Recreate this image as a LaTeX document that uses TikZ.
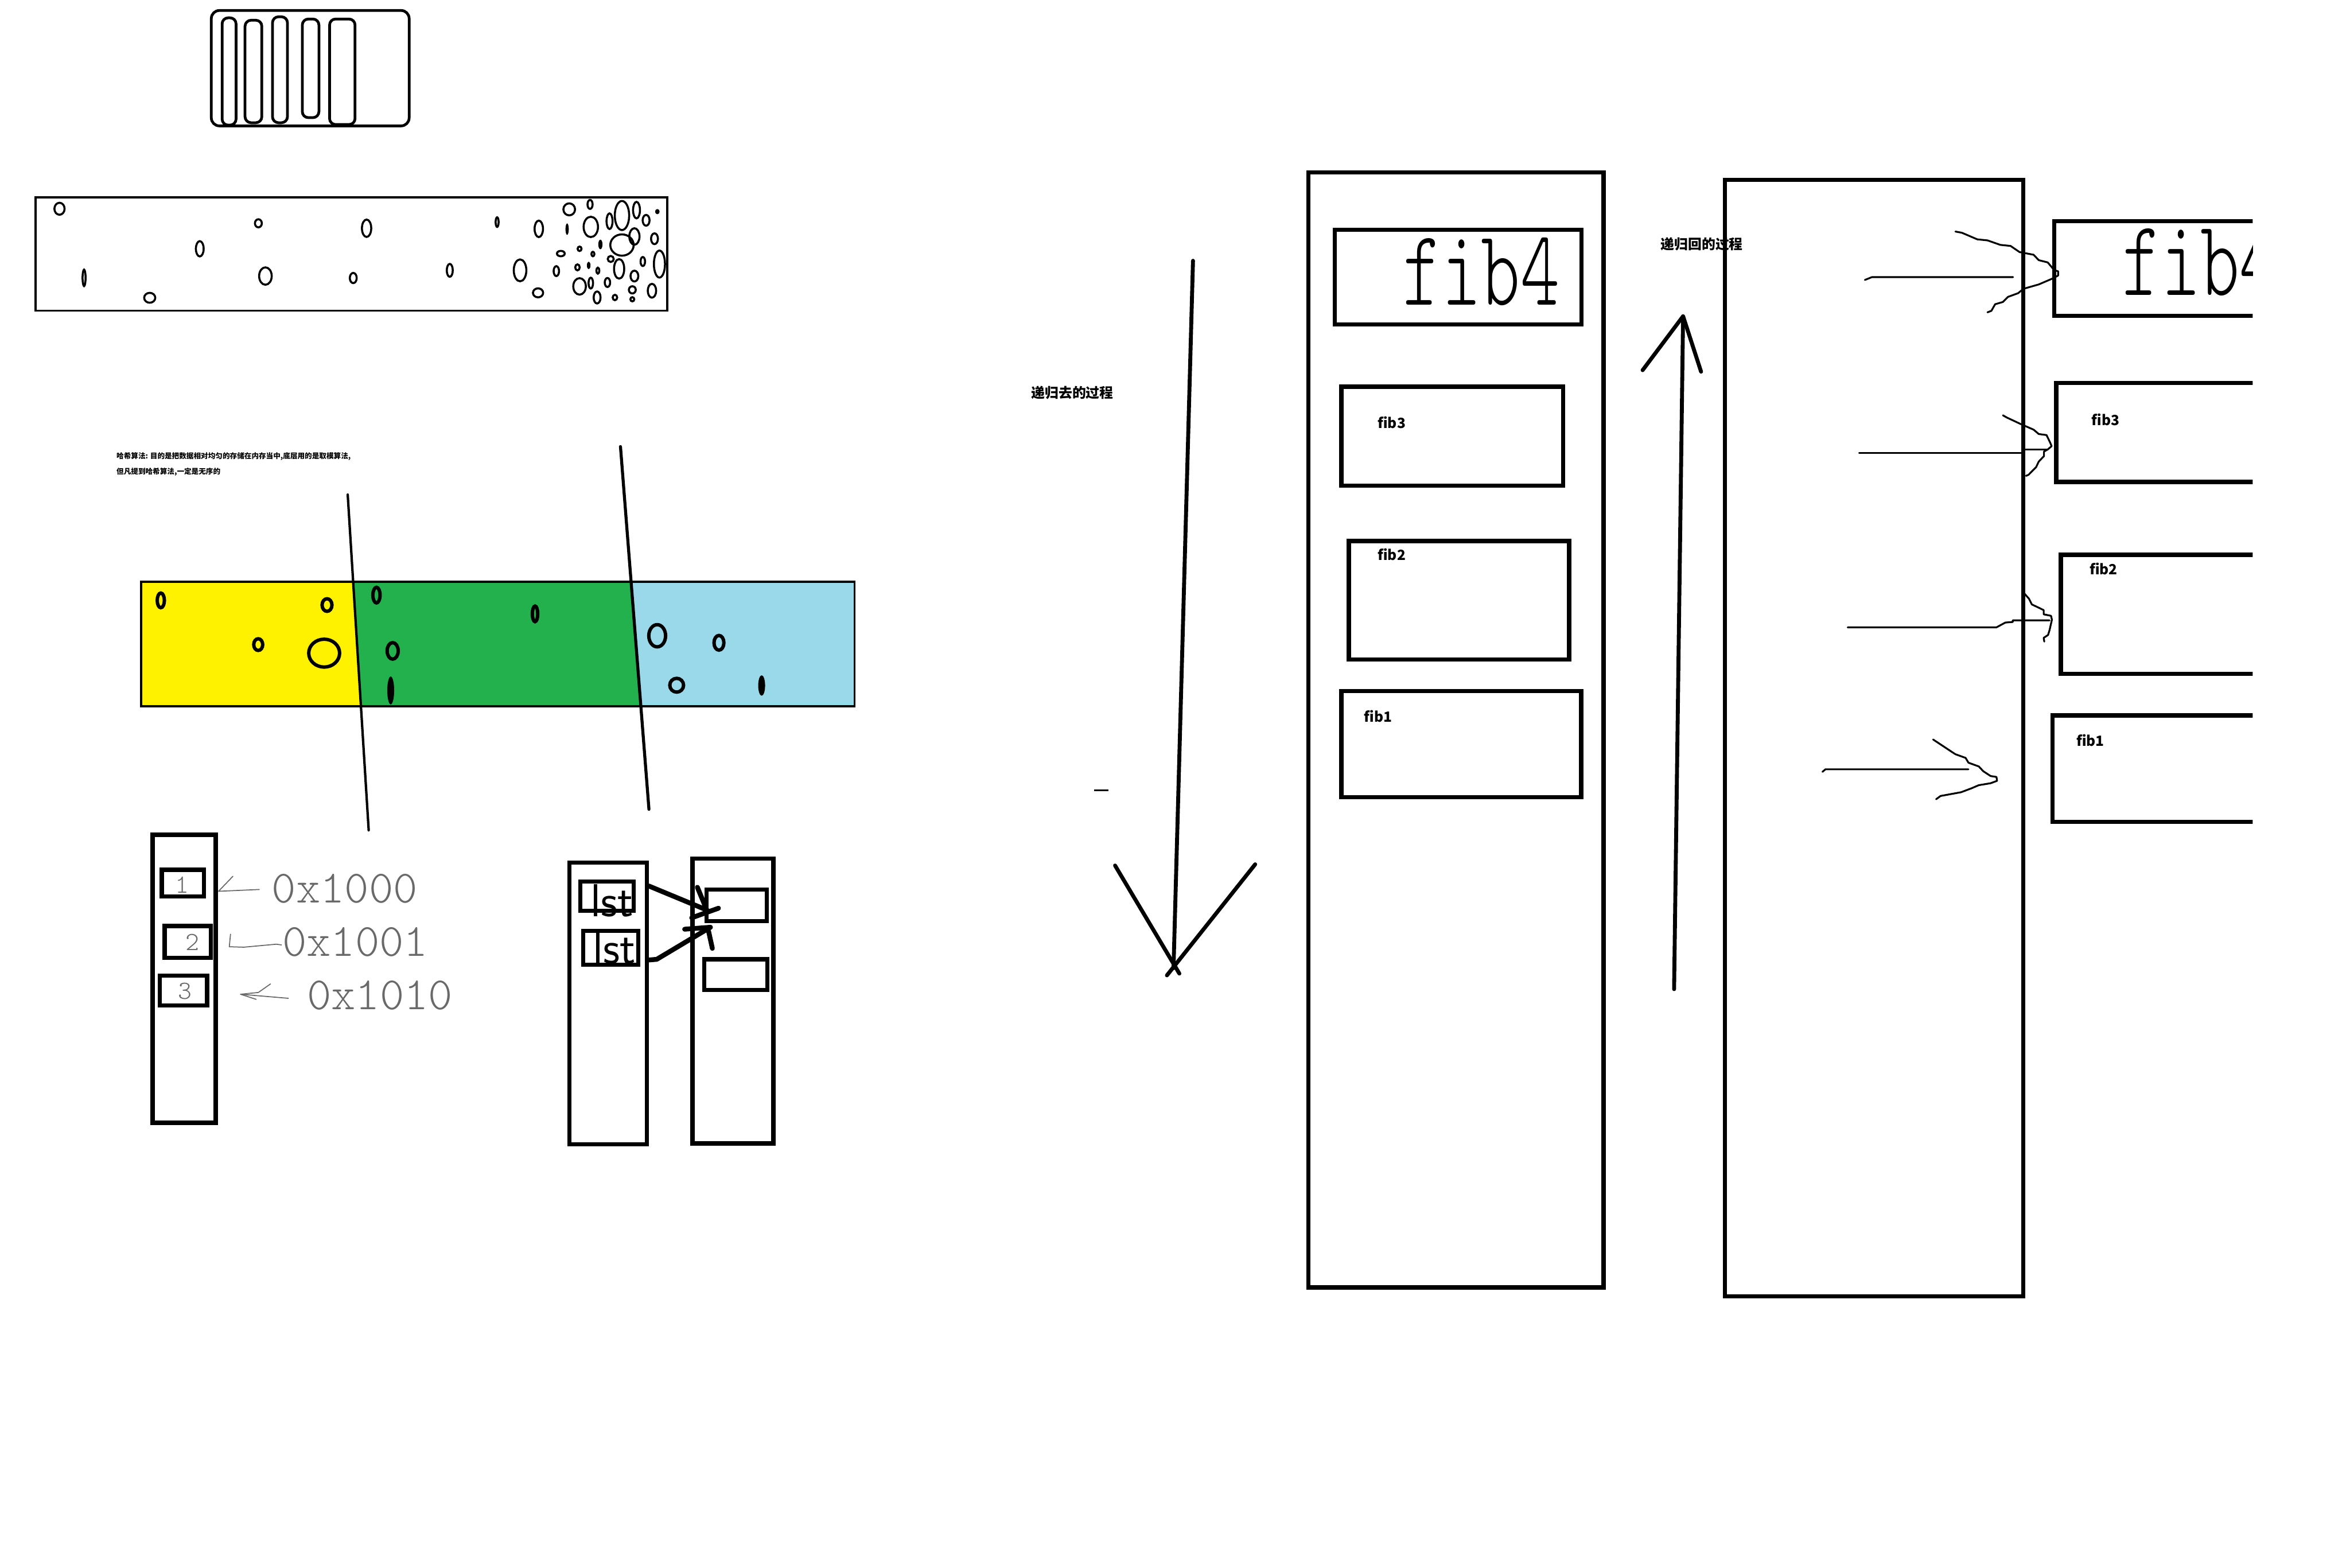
\documentclass[tikz,border=0pt]{standalone}
\usepackage{fontspec}
\usetikzlibrary{calc}
\newfontfamily\cjk{Noto Sans CJK SC}
\newfontfamily\hand{lmmonolt10-regular}[Extension=.otf]
\definecolor{cInk}   {RGB}{0,0,0}
\definecolor{cPaper} {RGB}{255,255,255}
\definecolor{cYellow}{RGB}{255,242,0}
\definecolor{cGreen} {RGB}{34,177,76}
\definecolor{cBlue}  {RGB}{153,217,234}
\definecolor{cPencil}{RGB}{105,105,105}
\def\Wthick{2.1pt}
\def\Wthin{0.9pt}
\tikzset{
  box/.style={draw=cInk,line width=\Wthick},
  ink/.style={cInk,line width=\Wthick,line cap=round,line join=round},
  hair/.style={cInk,line width=\Wthin,line cap=round,line join=round},
  pencil/.style={cPencil,line width=0.5pt,line cap=round,line join=round},
  bubble/.style={cInk,line width=1pt},
  blob/.style={cInk,line width=1.7pt},
  lbl/.style={font=\cjk\bfseries\fontsize{7}{8}\selectfont,inner sep=0pt},
  heading/.style={font=\cjk\bfseries\fontsize{6.8}{8}\selectfont,inner sep=0pt},
  note/.style={font=\cjk\bfseries\fontsize{3.6}{4.5}\selectfont,inner sep=0pt,anchor=west},
  scrawl/.style={font=\hand\fontsize{37}{37}\selectfont,inner sep=0pt,anchor=base west},
  pen/.style={font=\hand\fontsize{23}{23}\selectfont,text=cPencil,inner sep=0pt},
  digit/.style={font=\hand\fontsize{13}{13}\selectfont,text=cPencil,inner sep=0pt},
  lst/.style={font=\sffamily\fontsize{23}{23}\selectfont,inner sep=0pt},
}
% caixa de pilha com rótulo: nome, x1, y1, x2, y2, rótulo, dx, dy
\newcommand{\fibBox}[8]{%
  \draw[box] (#2,#3) rectangle (#4,#5);
  \node[lbl,anchor=west] (#1) at (#2+#7,#3+#8) {#6};
}

\begin{document}
\begin{tikzpicture}[x=0.262mm,y=-0.262mm]

% fundo
\useasboundingbox (0,0) rectangle (1568,1046);
\fill[cPaper] (0,0) rectangle (1568,1046);

% =================== CAIXA COM PÍLULAS ===================
\draw[cInk,line width=1.35pt,rounded corners=4pt] (141,7) rectangle (273,84);
\draw[cInk,line width=1.35pt,rounded corners=3pt]
  (148.2,11.9) rectangle (157.5,83.5)
  (163.5,13.5) rectangle (174.7,81.9)
  (181.8,11.2) rectangle (191.8,81.9)
  (201.7,12.7) rectangle (212.8,78.5)
  (219.9,12.7) rectangle (236.9,83.1);

% =================== CAIXA COM BOLHAS ===================
\draw[cInk,line width=1.1pt] (23.6,131.7) rectangle (445.2,207.3);
\draw[bubble]
  (39.7,139.3) ellipse (3.4 and 4.0)
  (172.4,149) ellipse (2.3 and 2.7)
  (244.6,152.3) ellipse (3.1 and 5.8)
  (133.3,166) ellipse (2.6 and 5.1)
  (56.1,185.4) ellipse (1.0 and 5.5)
  (177.1,184.2) ellipse (4.2 and 5.8)
  (99.9,198.7) ellipse (3.7 and 3.3)
  (235.7,185.5) ellipse (2.3 and 3.4)
  (331.7,148.2) ellipse (1.0 and 3.2)
  (300.1,180.4) ellipse (2.0 and 4.3)
  (359.5,152.7) ellipse (2.8 and 5.5)
  (347,180.4) ellipse (4.2 and 7.3)
  (359,195.4) ellipse (3.4 and 3.0)
  (379.8,139.7) ellipse (3.9 and 4.0)
  (393.7,136.4) ellipse (1.7 and 3.0)
  (394.2,151.4) ellipse (4.8 and 6.8)
  (406.7,147.6) ellipse (2.0 and 5.2)
  (415,143.8) ellipse (4.8 and 9.7)
  (424.7,140.2) ellipse (2.3 and 5.5)
  (431.1,147) ellipse (2.3 and 3.6)
  (438.6,141.2) ellipse (0.8 and 1.0)
  (423.3,157.8) ellipse (3.4 and 5.5)
  (415,163.5) ellipse (7.8 and 7.1)
  (436.7,159.3) ellipse (2.3 and 3.6)
  (386.7,166) ellipse (1.3 and 1.5)
  (374.2,169.2) ellipse (2.6 and 1.8)
  (395.6,169.5) ellipse (1.0 and 1.5)
  (407.5,172.8) ellipse (2.0 and 2.0)
  (413.1,179.4) ellipse (3.4 and 6.5)
  (428.9,174.5) ellipse (1.5 and 3.0)
  (440,176.2) ellipse (3.7 and 9.0)
  (385.3,178.4) ellipse (1.5 and 2.0)
  (398.9,180.6) ellipse (1.0 and 2.0)
  (371.2,180.9) ellipse (1.8 and 3.3)
  (423.3,184.2) ellipse (2.6 and 3.6)
  (386.7,191.1) ellipse (4.2 and 5.5)
  (394.2,188.9) ellipse (1.5 and 3.6)
  (405.3,188.5) ellipse (1.8 and 3.0)
  (398.4,198.5) ellipse (2.3 and 4.0)
  (410.3,198.5) ellipse (1.5 and 1.8)
  (421.9,193.4) ellipse (2.3 and 2.4)
  (421.9,199.7) ellipse (1.3 and 1.4)
  (435,194) ellipse (2.8 and 4.6);
\fill[cInk] (378.4,152.9) ellipse (1.1 and 3.8)
  (400.6,163.1) ellipse (1.4 and 3.2)
  (392.8,177.1) ellipse (1.2 and 2.5);

% =================== NOTA ===================
\node[note] (note1) at (77.5,304.6)
  {哈希算法: 目的是把数据相对均匀的存储在内存当中,底层用的是取模算法,};
\node[note] (note2) at (77.5,315)
  {但凡提到哈希算法,一定是无序的};

% =================== FAIXA COLORIDA ===================
\fill[cYellow] (94,388) -- (235.6,388) -- (240.8,471) -- (94,471) -- cycle;
\fill[cGreen] (235.6,388) -- (421.1,388) -- (427.6,471) -- (240.8,471) -- cycle;
\fill[cBlue] (421.1,388) -- (570,388) -- (570,471) -- (427.6,471) -- cycle;
\draw[cInk,line width=1.1pt] (94.2,388.1) rectangle (570.2,471.2);
\draw[blob]
  (107.3,400.6) ellipse (2.4 and 4.9)
  (218.2,403.7) ellipse (3.3 and 4.2)
  (172.3,430.1) ellipse (3 and 3.9)
  (216.3,435.8) ellipse (10.3 and 9.3)
  (251.2,397.1) ellipse (2.4 and 5.2)
  (357,409.6) ellipse (1.8 and 5.2)
  (262,434.3) ellipse (3.7 and 5.5)
  (438.5,424.2) ellipse (5.6 and 7.4)
  (479.7,428.9) ellipse (3.3 and 4.9)
  (451.5,457.2) ellipse (4.6 and 4.6);
\fill[cInk] (260.7,460.7) ellipse (2.3 and 9.3) (508.2,457.4) ellipse (2.3 and 6.8);
% cortes
\coordinate (cutA1) at (232,330);
\coordinate (cutA2) at (246,554);
\coordinate (cutB1) at (414,298);
\coordinate (cutB2) at (433,540);
\draw[cInk,line width=1.2pt,line cap=round] (cutA1) -- (cutA2);
\draw[cInk,line width=1.5pt,line cap=round] (cutB1) -- (cutB2);

% =================== MEMÓRIA COM ENDEREÇOS ===================
\draw[cInk,line width=2.3pt] (101.8,556.9) rectangle (143.8,749);
\draw[box] (108,580.4) rectangle (136,598.2);
\draw[box] (109.9,617.9) rectangle (140.8,639);
\draw[box] (106.5,651) rectangle (138.2,671);
\node[digit] (d1) at (121.6,590.3) {1};
\node[digit] (d2) at (128.3,628.8) {2};
\node[digit] (d3) at (123.5,661.5) {3};
\node[pen] (addr1) at (230,593) {0x1000};
\node[pen] (addr2) at (237,628.6) {0x1001};
\node[pen] (addr3) at (253.5,664) {0x1010};
\draw[pencil] (173,593.5) -- (145.8,594.7) -- (155.4,584.7);
\draw[pencil] (153.8,623.3) -- (153,631.7) -- (162.6,632) -- (184.4,630) -- (187.8,630.5);
\draw[pencil] (180.5,656.5) -- (172.4,662.2) -- (160.5,663.4) -- (170.9,666.8);
\draw[pencil] (160.5,663.4) -- (192.4,666.1);

% =================== LISTAS ===================
\draw[box] (380,575.5) rectangle (431.5,763.5);
\draw[box] (387.2,588.2) rectangle (422.8,607.8);
\draw[box] (389.2,621.2) rectangle (425.8,643.8);
\node[lst] (lst1) at (408.5,601) {lst};
\node[lst] (lst2) at (410,632.5) {lst};
\draw[box] (462,573) rectangle (516,763);
\draw[box] (471.5,593.5) rectangle (511.5,614.5);
\draw[box] (470,640) rectangle (512,660.5);
\coordinate (ptrA) at (433,591.2);
\coordinate (ptrAend) at (471.6,607.2);
\coordinate (ptrB) at (432,640.6);
\coordinate (ptrBend) at (474,618.7);
\draw[ink,line width=2.4pt] (ptrA) -- (ptrAend);
\draw[ink,line width=2.4pt] (465.3,592) -- (ptrAend);
\draw[ink,line width=2.4pt] (461.5,612.4) -- (479.4,606);
\draw[ink,line width=2.4pt] (ptrB) -- (438.2,640.1) -- (ptrBend);
\draw[ink,line width=2.4pt] (456.8,620) -- (ptrBend);
\draw[ink,line width=2.4pt] (472.8,621.4) -- (475.3,632.8);

% =================== RECURSÃO: IDA ===================
\node[heading] (goLbl) at (715.5,262) {递归去的过程};
\coordinate (goTop) at (796,174);
\coordinate (goTip) at (783,646);
\draw[ink,line width=1.95pt] (goTop) -- (goTip);
\draw[ink,line width=1.95pt] (744,577.5) -- (786.9,649.6);
\draw[ink,line width=1.95pt] (837.5,576.7) -- (778.6,650.8);
\draw[cInk,line width=0.8pt] (730,527.3) -- (739.4,527.3);

\draw[box] (873,115) rectangle (1070,859);
\fibBox{fibL3}{895}{258}{1043}{324}{fib3}{24}{24}
\fibBox{fibL2}{900}{361}{1047}{440}{fib2}{19}{9}
\fibBox{fibL1}{895}{461}{1055}{532}{fib1}{15}{17}
\draw[box] (890.7,153.4) rectangle (1055.1,216.6);
\node[scrawl] (fibL4) at (936,203.6) {\scalebox{1}[1.45]{fib4}};

% =================== RECURSÃO: VOLTA ===================
\node[heading] (backLbl) at (1135.5,163) {递归回的过程};
\coordinate (backBot) at (1117,660);
\coordinate (backTip) at (1123,211);
\draw[ink,line width=1.95pt] (backBot) -- (backTip);
\draw[ink,line width=1.95pt] (1096,247) -- (backTip) -- (1135,248);

\draw[box] (1151,120) rectangle (1350,865);
\begin{scope}
  \clip (0,0) rectangle (1503,1046);
  \draw[box] (1370.6,147.6) rectangle (1545,210.7);
  \node[scrawl] (fibR4) at (1416,197.1) {\scalebox{1}[1.45]{fib4}};
  \fibBox{fibR3}{1372}{255.5}{1545}{321.5}{fib3}{23.4}{24.5}
  \fibBox{fibR2}{1375}{370.2}{1545}{449.5}{fib2}{19}{9.3}
  \fibBox{fibR1}{1369.5}{477.3}{1545}{548.5}{fib1}{15.7}{16.7}
\end{scope}

% retornos desenhados à mão
\coordinate (ret4) at (1244.3,186.8);
\coordinate (ret4end) at (1343.2,184.9);
\draw[hair] (ret4) -- (1249,184.9) -- (ret4end);
\draw[hair] (1304.7,154.5) -- (1309,155.3) -- (1319.3,159.7) -- (1326.1,160.4)
  -- (1334.7,163.4) -- (1341.5,164.1) -- (1347.5,168.2) -- (1356.9,170)
  -- (1360.3,173.6) -- (1366.3,175.1) -- (1370.6,180.2) -- (1373.2,181)
  -- (1373.2,183.9) -- (1368.9,186.1) -- (1360.3,189.8) -- (1350.1,192.7)
  -- (1346.6,195.6) -- (1339.8,198.1) -- (1336.4,201.5) -- (1331.2,203)
  -- (1328.7,207.4) -- (1326.1,208.4);

\coordinate (ret3) at (1240.5,302.1);
\coordinate (ret3end) at (1349.2,302.1);
\draw[hair] (ret3) -- (ret3end);
\draw[hair] (1350.9,299.9) -- (1366.3,299.9);
\draw[hair] (1336.4,277.1) -- (1339,278.6) -- (1348.4,283) -- (1356.9,286.7)
  -- (1360.3,289.6) -- (1365.5,290.3) -- (1368,295.5) -- (1368.9,297.7)
  -- (1366.3,299.9) -- (1363.8,301.3) -- (1363.8,304.3) -- (1360.3,308)
  -- (1358.6,311.6) -- (1353.5,316.8) -- (1351.8,317.5);

\coordinate (ret2) at (1232.8,418.6);
\coordinate (ret2end) at (1367.5,413.9);
\draw[hair] (ret2) -- (1332.1,418.6) -- (1338,415.4) -- (1343,415)
  -- (1343,413.9) -- (ret2end);
\draw[hair] (1349.8,395) -- (1353.8,399.5) -- (1355.7,403.3) -- (1359.7,405.2)
  -- (1363.6,407.1) -- (1363.6,409.9) -- (1368.5,410.9) -- (1369.1,413.5)
  -- (1367.5,420.5) -- (1366.5,423.7) -- (1363.6,425.6) -- (1364,428.1);

\coordinate (ret1) at (1216,515);
\coordinate (ret1end) at (1313.4,513.3);
\draw[hair] (ret1) -- (1218,513.3) -- (ret1end);
\draw[hair] (1289.8,493.4) -- (1298.7,499.3) -- (1304.6,503.2) -- (1311.5,505.7)
  -- (1313.4,508.9) -- (1320.3,511.4) -- (1323.3,514.6) -- (1328.2,517.8)
  -- (1332.1,518.4) -- (1332.5,521) -- (1328.2,522.6) -- (1320.3,523.9)
  -- (1315.4,526) -- (1308.5,528.6) -- (1294.8,531.1) -- (1291.8,533.3);

\end{tikzpicture}
\end{document}
